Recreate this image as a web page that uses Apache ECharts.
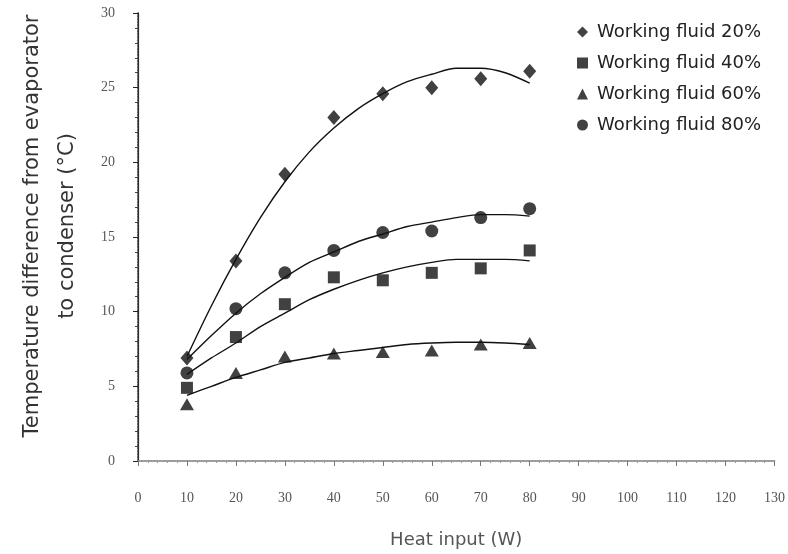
<!DOCTYPE html>
<html>
<head>
<meta charset="utf-8">
<script src="https://cdn.jsdelivr.net/npm/echarts@6/dist/echarts.min.js"></script>
<style>
html,body{margin:0;padding:0;background:#fff;}
#chart{width:788px;height:554px;}
</style>
</head>
<body>
<div id="chart"></div>
<script>
const heatInput = [10, 20, 30, 40, 50, 60, 70, 80];
const fluid20 = [6.9, 13.4, 19.2, 23.0, 24.6, 25.0, 25.6, 26.1];
const fluid40 = [4.9, 8.3, 10.5, 12.3, 12.1, 12.6, 12.9, 14.1];
const fluid60 = [3.8, 5.9, 7.0, 7.2, 7.3, 7.4, 7.8, 7.9];
const fluid80 = [5.9, 10.2, 12.6, 14.1, 15.3, 15.4, 16.3, 16.9];
// trend curves every 5 W
const trendInput = [10, 15, 20, 25, 30, 35, 40, 45, 50, 55, 60, 65, 70, 75, 80];
const trend20 = [7.0, 10.4, 13.5, 16.3, 18.7, 20.7, 22.3, 23.6, 24.6, 25.4, 25.9, 26.3, 26.3, 26.0, 25.3];
const trend40 = [5.8, 6.9, 7.9, 9.0, 9.9, 10.8, 11.5, 12.1, 12.6, 13.0, 13.3, 13.5, 13.5, 13.5, 13.4];
const trend60 = [4.4, 5.0, 5.6, 6.1, 6.6, 6.9, 7.2, 7.4, 7.6, 7.8, 7.9, 7.95, 7.95, 7.9, 7.8];
const trend80 = [6.8, 8.4, 9.9, 11.2, 12.3, 13.3, 14.0, 14.7, 15.2, 15.7, 16.0, 16.3, 16.5, 16.5, 16.4];
const seriesNames = ['Working fluid 20%', 'Working fluid 40%', 'Working fluid 60%', 'Working fluid 80%'];
const xTitle = 'Heat input (W)';
const yTitle = 'Temperature difference from evaporator\nto condenser (\u00B0C)';

const pairs = (xs, ys) => xs.map((x, i) => [x, ys[i]]);

const markerColor = '#111';
const scatter = (name, ys, symbol, size) => ({
  name: name, type: 'scatter', data: pairs(heatInput, ys), symbol: symbol, symbolSize: size,
  itemStyle: { color: markerColor }, z: 5
});
const trend = (ys) => ({
  type: 'line', data: pairs(trendInput, ys), smooth: 0.3, showSymbol: false, silent: true,
  lineStyle: { color: '#111', width: 1.4 }, z: 3
});

const chart = echarts.init(document.getElementById('chart'));
chart.setOption({
  animation: false,
  backgroundColor: '#fff',
  grid: { left: 138, right: 13, top: 13, bottom: 93 },
  legend: {
    data: seriesNames,
    orient: 'vertical',
    left: 577, top: 22, padding: 0,
    itemWidth: 11, itemHeight: 11, itemGap: 11,
    textStyle: { fontFamily: 'DejaVu Sans', fontSize: 18, color: '#222', lineHeight: 20, padding: [0, 0, 0, 4] },
    backgroundColor: '#fff'
  },
  xAxis: [{
    type: 'value', min: 0, max: 130, interval: 10,
    axisLine: { show: true, onZero: false, lineStyle: { color: '#777', type: 'dotted', width: 1.5 } },
    axisTick: { show: true, length: 5, lineStyle: { color: '#777' } },
    minorTick: { show: true, splitNumber: 5, length: 2, lineStyle: { color: '#999' } },
    splitLine: { show: false },
    axisLabel: { margin: 30, fontFamily: 'Liberation Serif', fontSize: 14, color: '#555' },
    name: xTitle, nameLocation: 'middle', nameGap: 70,
    nameTextStyle: { fontFamily: 'DejaVu Sans', fontSize: 18, color: '#555' }
  }, {
    type: 'value', position: 'top', min: 0, max: 130,
    axisLine: { show: true, lineStyle: { color: '#999', width: 1.5 } },
    axisTick: { show: false }, axisLabel: { show: false }, splitLine: { show: false }
  }],
  yAxis: [{
    type: 'value', min: 0, max: 30, interval: 5,
    axisLine: { show: true, onZero: false, lineStyle: { color: '#222', width: 1.2 } },
    axisTick: { show: true, length: 5, lineStyle: { color: '#222' } },
    minorTick: { show: true, splitNumber: 5, length: 3, lineStyle: { color: '#444' } },
    splitLine: { show: false },
    axisLabel: { margin: 23, fontFamily: 'Liberation Serif', fontSize: 14, color: '#555' }
  }, {
    type: 'value', position: 'right', min: 0, max: 30,
    axisLine: { show: true, lineStyle: { color: '#333', type: 'dotted', width: 1.5 } },
    axisTick: { show: false }, axisLabel: { show: false }, splitLine: { show: false }
  }],
  graphic: [{
    type: 'text',
    x: 50, y: 226,
    rotation: Math.PI / 2,
    style: {
      text: yTitle,
      fontFamily: 'DejaVu Sans', fontSize: 21, fill: '#333',
      align: 'center', verticalAlign: 'middle', lineHeight: 35
    }
  }],
  series: [
    scatter(seriesNames[0], fluid20, 'diamond', [13, 15]),
    scatter(seriesNames[1], fluid40, 'rect', 12),
    scatter(seriesNames[2], fluid60, 'triangle', [14, 12]),
    scatter(seriesNames[3], fluid80, 'circle', 13),
    trend(trend20), trend(trend40), trend(trend60), trend(trend80)
  ]
});
</script>
</body>
</html>
